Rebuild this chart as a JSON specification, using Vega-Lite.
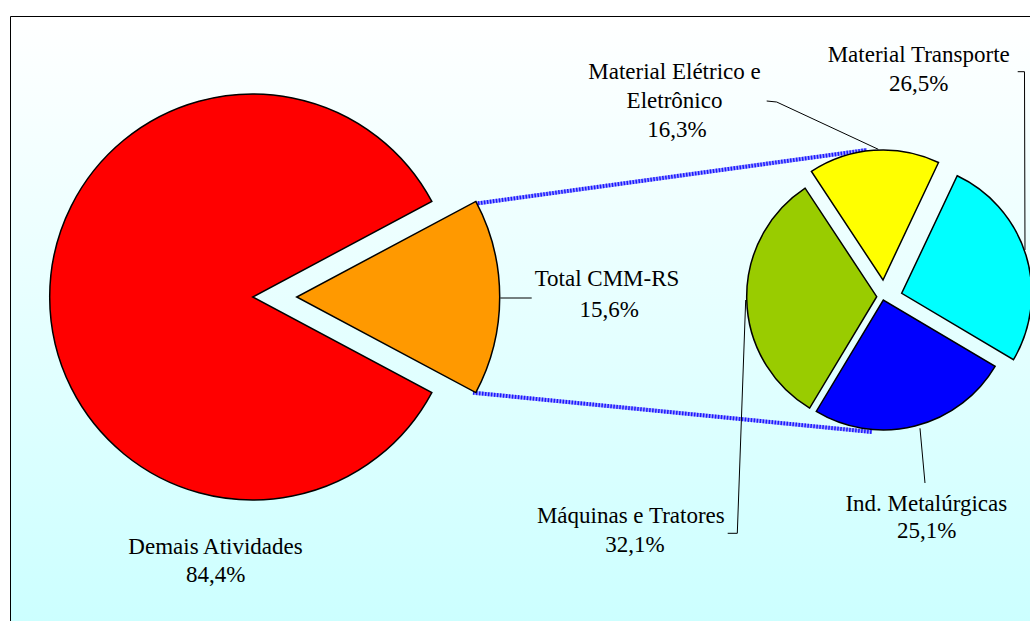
{
  "$schema": "https://vega.github.io/schema/vega-lite/v6.json",
  "width": 1020,
  "height": 562,
  "autosize": {"type": "none"},
  "padding": {"left": 10, "top": 16, "right": 0, "bottom": 43},
  "background": "white",
  "config": {
    "view": {"stroke": null},
    "locale": {"number": {"decimal": ",", "thousands": ".", "grouping": [3], "currency": ["R$", ""]}},
    "text": {"font": "Liberation Serif", "fontSize": 23, "fill": "black", "align": "center", "baseline": "alphabetic"},
    "rule": {"stroke": "black", "strokeWidth": 1}
  },
  "datasets": {
    "fatias": [
      {"grupo": "Indústria RS", "setor": "Total CMM-RS", "pct": 0.156, "ordem": 1},
      {"grupo": "Indústria RS", "setor": "Demais Atividades", "pct": 0.844, "ordem": 2},
      {"grupo": "CMM-RS", "setor": "Material Elétrico e Eletrônico", "pct": 0.163, "ordem": 1},
      {"grupo": "CMM-RS", "setor": "Material Transporte", "pct": 0.265, "ordem": 2},
      {"grupo": "CMM-RS", "setor": "Ind. Metalúrgicas", "pct": 0.251, "ordem": 3},
      {"grupo": "CMM-RS", "setor": "Máquinas e Tratores", "pct": 0.321, "ordem": 4}
    ]
  },
  "resolve": {"scale": {"theta": "independent"}},
  "layer": [
    {
      "data": {"values": [{}]},
      "mark": {
        "type": "rect",
        "fill": {"gradient": "linear", "x1": 0, "y1": 0, "x2": 0, "y2": 1, "stops": [{"offset": 0, "color": "#ffffff"}, {"offset": 1, "color": "#c9ffff"}]},
        "stroke": "black", "strokeWidth": 1,
        "xOffset": 0.5, "yOffset": 0.5, "x2Offset": 20, "y2Offset": 80
      },
      "encoding": {
        "x": {"value": 0}, "x2": {"value": "width"},
        "y": {"value": 0}, "y2": {"value": "height"}
      }
    },
    {
      "data": {"name": "fatias"},
      "transform": [
        {"stack": "pct", "groupby": ["grupo"], "sort": [{"field": "ordem", "order": "ascending"}], "as": ["ini", "fim"]}
      ],
      "encoding": {
        "x": {"field": "grupo", "type": "nominal", "axis": null,
              "scale": {"type": "point", "domain": ["Indústria RS", "CMM-RS"], "padding": 0.30915, "align": 0.62279}}
      },
      "resolve": {"scale": {"theta": "independent"}},
      "layer": [
        {
          "transform": [{"filter": "datum.setor === 'Total CMM-RS'"}],
          "mark": {"type": "rule", "stroke": "#a0a0ff", "strokeWidth": 4, "xOffset": 222.3, "yOffset": -93.3, "x2Offset": -16, "y2Offset": -147},
          "encoding": {"x2": {"datum": "CMM-RS"}, "y": {"datum": "c", "type": "nominal", "scale": {"type": "point"}, "axis": null}, "y2": {"datum": "c"}}
        },
        {
          "transform": [{"filter": "datum.setor === 'Total CMM-RS'"}],
          "mark": {"type": "rule", "stroke": "#1a1aff", "strokeWidth": 4, "strokeDash": [1.5, 1.5], "xOffset": 222.3, "yOffset": -93.3, "x2Offset": -16, "y2Offset": -147},
          "encoding": {"x2": {"datum": "CMM-RS"}, "y": {"datum": "c", "type": "nominal", "scale": {"type": "point"}, "axis": null}, "y2": {"datum": "c"}}
        },
        {
          "transform": [{"filter": "datum.setor === 'Total CMM-RS'"}],
          "mark": {"type": "rule", "stroke": "#a0a0ff", "strokeWidth": 4, "xOffset": 220.3, "yOffset": 95.7, "x2Offset": -11, "y2Offset": 135},
          "encoding": {"x2": {"datum": "CMM-RS"}, "y": {"datum": "c", "type": "nominal", "scale": {"type": "point"}, "axis": null}, "y2": {"datum": "c"}}
        },
        {
          "transform": [{"filter": "datum.setor === 'Total CMM-RS'"}],
          "mark": {"type": "rule", "stroke": "#1a1aff", "strokeWidth": 4, "strokeDash": [1.5, 1.5], "xOffset": 220.3, "yOffset": 95.7, "x2Offset": -11, "y2Offset": 135},
          "encoding": {"x2": {"datum": "CMM-RS"}, "y": {"datum": "c", "type": "nominal", "scale": {"type": "point"}, "axis": null}, "y2": {"datum": "c"}}
        },
        {
          "transform": [{"filter": "datum.setor === 'Total CMM-RS'"}],
          "mark": {"type": "rule", "xOffset": 247.6, "yOffset": 1, "x2Offset": 279, "y2Offset": 1},
          "encoding": {"x2": {"field": "grupo"}, "y": {"datum": "c", "type": "nominal", "scale": {"type": "point"}, "axis": null}, "y2": {"datum": "c"}}
        },
        {
          "transform": [{"filter": "datum.setor === 'Material Elétrico e Eletrônico'"}],
          "mark": {"type": "rule", "xOffset": -116.3, "yOffset": -196, "x2Offset": -106.3, "y2Offset": -195},
          "encoding": {"x2": {"field": "grupo"}, "y": {"datum": "c", "type": "nominal", "scale": {"type": "point"}, "axis": null}, "y2": {"datum": "c"}}
        },
        {
          "transform": [{"filter": "datum.setor === 'Material Elétrico e Eletrônico'"}],
          "mark": {"type": "rule", "xOffset": -106.3, "yOffset": -195, "x2Offset": -4.7, "y2Offset": -147.7},
          "encoding": {"x2": {"field": "grupo"}, "y": {"datum": "c", "type": "nominal", "scale": {"type": "point"}, "axis": null}, "y2": {"datum": "c"}}
        },
        {
          "transform": [{"filter": "datum.setor === 'Material Transporte'"}],
          "mark": {"type": "rule", "xOffset": 134.7, "yOffset": -225.3, "x2Offset": 141.5, "y2Offset": -225.3},
          "encoding": {"x2": {"field": "grupo"}, "y": {"datum": "c", "type": "nominal", "scale": {"type": "point"}, "axis": null}, "y2": {"datum": "c"}}
        },
        {
          "transform": [{"filter": "datum.setor === 'Material Transporte'"}],
          "mark": {"type": "rule", "xOffset": 141.5, "yOffset": -225.3, "x2Offset": 142, "y2Offset": -47},
          "encoding": {"x2": {"field": "grupo"}, "y": {"datum": "c", "type": "nominal", "scale": {"type": "point"}, "axis": null}, "y2": {"datum": "c"}}
        },
        {
          "transform": [{"filter": "datum.setor === 'Máquinas e Tratores'"}],
          "mark": {"type": "rule", "xOffset": -155.3, "yOffset": 236.3, "x2Offset": -145.7, "y2Offset": 236.3},
          "encoding": {"x2": {"field": "grupo"}, "y": {"datum": "c", "type": "nominal", "scale": {"type": "point"}, "axis": null}, "y2": {"datum": "c"}}
        },
        {
          "transform": [{"filter": "datum.setor === 'Máquinas e Tratores'"}],
          "mark": {"type": "rule", "xOffset": -145.7, "yOffset": 236.3, "x2Offset": -137.3, "y2Offset": 3},
          "encoding": {"x2": {"field": "grupo"}, "y": {"datum": "c", "type": "nominal", "scale": {"type": "point"}, "axis": null}, "y2": {"datum": "c"}}
        },
        {
          "transform": [{"filter": "datum.setor === 'Ind. Metalúrgicas'"}],
          "mark": {"type": "rule", "xOffset": 42, "yOffset": 186, "x2Offset": 37, "y2Offset": 131.3},
          "encoding": {"x2": {"field": "grupo"}, "y": {"datum": "c", "type": "nominal", "scale": {"type": "point"}, "axis": null}, "y2": {"datum": "c"}}
        },
        {
          "encoding": {
            "fill": {"field": "setor", "type": "nominal", "legend": null,
              "scale": {"domain": ["Demais Atividades", "Total CMM-RS", "Material Elétrico e Eletrônico", "Material Transporte", "Ind. Metalúrgicas", "Máquinas e Tratores"],
                        "range": ["#ff0000", "#ff9900", "#ffff00", "#00ffff", "#0000ff", "#99cc00"]}}
          },
          "resolve": {"scale": {"theta": "independent"}},
          "layer": [
            {
              "transform": [{"filter": "datum.setor === 'Demais Atividades'"}],
              "mark": {"type": "arc", "radius": 203, "stroke": "black", "strokeWidth": 1.5},
              "encoding": {"theta": {"field": "ini", "type": "quantitative", "stack": null, "scale": {"domain": [0, 1], "range": [1.0807, 7.3639]}}, "theta2": {"field": "fim"}}
            },
            {
              "transform": [{"filter": "datum.setor === 'Total CMM-RS'"}],
              "mark": {"type": "arc", "radius": 203, "stroke": "black", "strokeWidth": 1.5, "xOffset": 44},
              "encoding": {"theta": {"field": "ini", "type": "quantitative", "stack": null, "scale": {"domain": [0, 1], "range": [1.0807, 7.3639]}}, "theta2": {"field": "fim"}}
            },
            {
              "transform": [{"filter": "datum.setor === 'Material Elétrico e Eletrônico'"}],
              "mark": {"type": "arc", "radius": 130, "stroke": "black", "strokeWidth": 1.5, "xOffset": 0, "yOffset": -17},
              "encoding": {"theta": {"field": "ini", "type": "quantitative", "stack": null, "scale": {"domain": [0, 1], "range": [-0.5829, 5.7003]}}, "theta2": {"field": "fim"}}
            },
            {
              "transform": [{"filter": "datum.setor === 'Material Transporte'"}],
              "mark": {"type": "arc", "radius": 130, "stroke": "black", "strokeWidth": 1.5, "xOffset": 18.7, "yOffset": -3.7},
              "encoding": {"theta": {"field": "ini", "type": "quantitative", "stack": null, "scale": {"domain": [0, 1], "range": [-0.5829, 5.7003]}}, "theta2": {"field": "fim"}}
            },
            {
              "transform": [{"filter": "datum.setor === 'Ind. Metalúrgicas'"}],
              "mark": {"type": "arc", "radius": 130, "stroke": "black", "strokeWidth": 1.5, "xOffset": 0.3, "yOffset": 3},
              "encoding": {"theta": {"field": "ini", "type": "quantitative", "stack": null, "scale": {"domain": [0, 1], "range": [-0.5829, 5.7003]}}, "theta2": {"field": "fim"}}
            },
            {
              "transform": [{"filter": "datum.setor === 'Máquinas e Tratores'"}],
              "mark": {"type": "arc", "radius": 130, "stroke": "black", "strokeWidth": 1.5, "xOffset": -6.3, "yOffset": -0.3},
              "encoding": {"theta": {"field": "ini", "type": "quantitative", "stack": null, "scale": {"domain": [0, 1], "range": [-0.5829, 5.7003]}}, "theta2": {"field": "fim"}}
            }
          ]
        },
        {
          "transform": [{"filter": "datum.setor === 'Demais Atividades'"}],
          "mark": {"type": "text", "dx": -37.2, "dy": 256.7},
          "encoding": {"text": {"field": "setor"}}
        },
        {
          "transform": [{"filter": "datum.setor === 'Demais Atividades'"}],
          "mark": {"type": "text", "dx": -36.9, "dy": 285},
          "encoding": {"text": {"field": "pct", "type": "quantitative", "format": ".1%"}}
        },
        {
          "transform": [{"filter": "datum.setor === 'Total CMM-RS'"}],
          "mark": {"type": "text", "dx": 354.3, "dy": -10.6},
          "encoding": {"text": {"field": "setor"}}
        },
        {
          "transform": [{"filter": "datum.setor === 'Total CMM-RS'"}],
          "mark": {"type": "text", "dx": 356.5, "dy": 20.4},
          "encoding": {"text": {"field": "pct", "type": "quantitative", "format": ".1%"}}
        },
        {
          "transform": [{"filter": "datum.setor === 'Material Transporte'"}],
          "mark": {"type": "text", "dx": 35.7, "dy": -235.3},
          "encoding": {"text": {"field": "setor"}}
        },
        {
          "transform": [{"filter": "datum.setor === 'Material Transporte'"}],
          "mark": {"type": "text", "dx": 35.8, "dy": -206},
          "encoding": {"text": {"field": "pct", "type": "quantitative", "format": ".1%"}}
        },
        {
          "transform": [{"filter": "datum.setor === 'Material Elétrico e Eletrônico'"}],
          "mark": {"type": "text", "dx": -208.5, "dy": -217.7, "lineHeight": 29},
          "encoding": {"text": {"value": ["Material Elétrico e", "Eletrônico"]}}
        },
        {
          "transform": [{"filter": "datum.setor === 'Material Elétrico e Eletrônico'"}],
          "mark": {"type": "text", "dx": -206, "dy": -159.7},
          "encoding": {"text": {"field": "pct", "type": "quantitative", "format": ".1%"}}
        },
        {
          "transform": [{"filter": "datum.setor === 'Máquinas e Tratores'"}],
          "mark": {"type": "text", "dx": -252.2, "dy": 225.7},
          "encoding": {"text": {"field": "setor"}}
        },
        {
          "transform": [{"filter": "datum.setor === 'Máquinas e Tratores'"}],
          "mark": {"type": "text", "dx": -248, "dy": 254.7},
          "encoding": {"text": {"field": "pct", "type": "quantitative", "format": ".1%"}}
        },
        {
          "transform": [{"filter": "datum.setor === 'Ind. Metalúrgicas'"}],
          "mark": {"type": "text", "dx": 43.3, "dy": 213.7},
          "encoding": {"text": {"field": "setor"}}
        },
        {
          "transform": [{"filter": "datum.setor === 'Ind. Metalúrgicas'"}],
          "mark": {"type": "text", "dx": 43.7, "dy": 241.3},
          "encoding": {"text": {"field": "pct", "type": "quantitative", "format": ".1%"}}
        }
      ]
    }
  ]
}
